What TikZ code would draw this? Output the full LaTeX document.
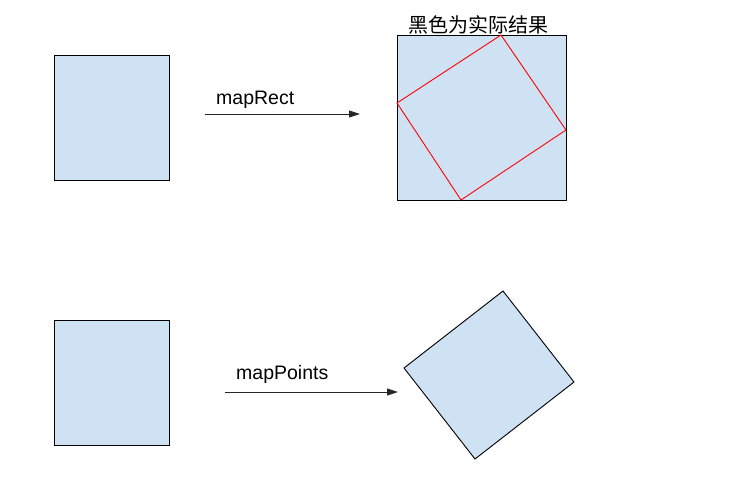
\documentclass[tikz,border=0pt]{standalone}
\usepackage{fontspec}
\setmainfont{Liberation Sans}
\newfontfamily\cjk{Noto Sans CJK SC}
\usetikzlibrary{arrows.meta}
\definecolor{boxblue}{HTML}{CFE2F3}
\begin{document}
\begin{tikzpicture}[x=1pt,y=-1pt,
  box/.style={draw=black,fill=boxblue,line width=0.9pt},
  redbox/.style={draw=red,line width=0.9pt},
  conn/.style={draw=black!85,line width=0.9pt,-{Triangle[length=11pt,width=7pt]}},
  lbl/.style={font=\fontsize{19.5}{22}\selectfont,inner sep=0pt,anchor=west}]
\useasboundingbox[fill=white] (0,0) rectangle (730,485);
% top row
\draw[box] (54,55) rectangle (169,180);
\coordinate (a1) at (205,114);
\coordinate (a2) at (360,114);
\draw[conn] (a1) -- (a2);
\node[lbl] (l1) at (216,100) {mapRect};
\draw[box] (397,35) rectangle (566,200);
\coordinate (r1) at (501,35);
\coordinate (r2) at (566,130);
\coordinate (r3) at (461,200);
\coordinate (r4) at (397,103);
\draw[redbox] (r1) -- (r2) -- (r3) -- (r4) -- cycle;
\node[inner sep=0pt,font=\cjk\fontsize{20}{22}\selectfont] (t) at (478,25) {黑色为实际结果};
% bottom row
\draw[box] (54,320) rectangle (169,445);
\coordinate (b1) at (225,392);
\coordinate (b2) at (398,392);
\draw[conn] (b1) -- (b2);
\node[lbl] (l2) at (236,374) {mapPoints};
\coordinate (p1) at (503,291);
\coordinate (p2) at (574,382);
\coordinate (p3) at (475,459);
\coordinate (p4) at (404,368);
\draw[box] (p1) -- (p2) -- (p3) -- (p4) -- cycle;
\end{tikzpicture}
\end{document}
